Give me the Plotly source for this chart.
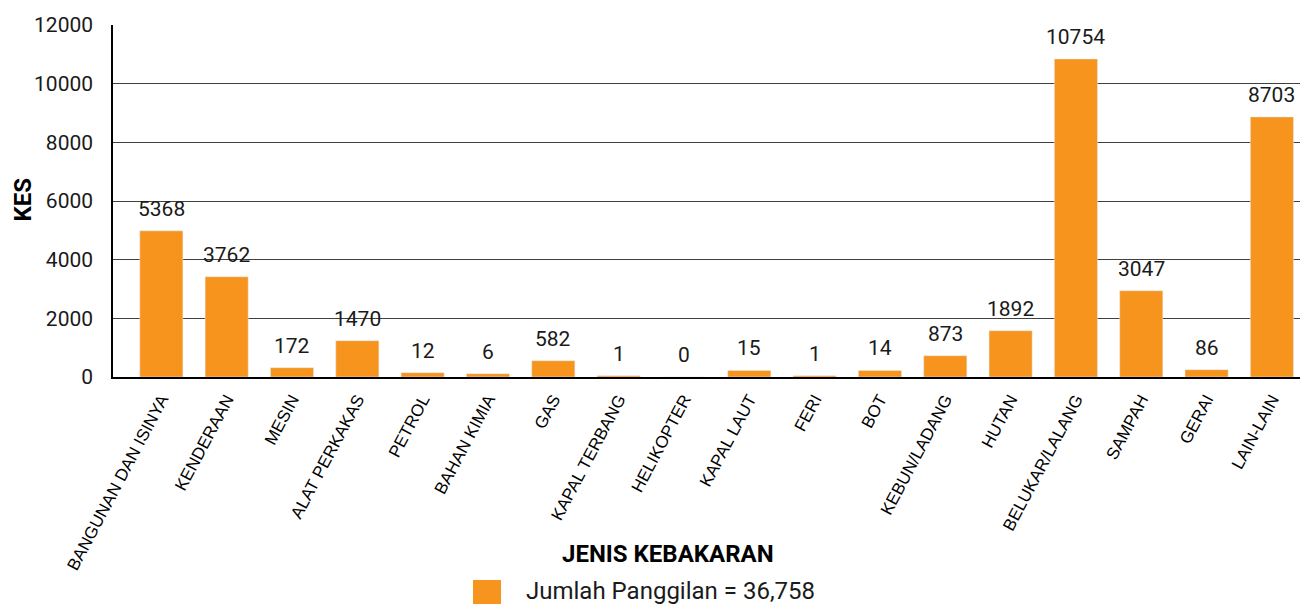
import plotly.graph_objects as go

categories = [
    "BANGUNAN DAN ISINYA", "KENDERAAN", "MESIN", "ALAT PERKAKAS", "PETROL",
    "BAHAN KIMIA", "GAS", "KAPAL TERBANG", "HELIKOPTER", "KAPAL LAUT", "FERI",
    "BOT", "KEBUN/LADANG", "HUTAN", "BELUKAR/LALANG", "SAMPAH", "GERAI", "LAIN-LAIN",
]
# bar heights as drawn in the picture
bar_heights = [4983, 3417, 317, 1237, 147, 113, 556, 45, 0, 225, 45, 225,
               726, 1577, 10842, 2940, 249, 8866]
# value labels printed above the bars
label_values = [5368, 3762, 172, 1470, 12, 6, 582, 1, 0, 15, 1, 14,
                873, 1892, 10754, 3047, 86, 8703]
y_ticks = [0, 2000, 4000, 6000, 8000, 10000, 12000]
legend_label = "Jumlah Panggilan = 36,758"
x_title = "JENIS KEBAKARAN"
y_title = "KES"

ORANGE = "#F7941D"
W, H = 1300, 604
L, R, T, B = 113, 0, 25, 227
PW, PH = W - L - R, H - T - B


def px(x):
    return (x - L) / PW


def py(y):
    return (H - B - y) / PH


fig = go.Figure()
fig.add_trace(go.Bar(
    x=categories, y=bar_heights, marker_color=ORANGE, width=0.66,
    name=legend_label, showlegend=False, hoverinfo="x+y",
))

annotations = []
for c, h, v in zip(categories, bar_heights, label_values):
    annotations.append(dict(
        x=c, y=h, xref="x", yref="y", text=str(v), showarrow=False,
        yanchor="bottom", xanchor="center", yshift=8,
        font=dict(family="Roboto", size=21, color="#1a1a1a"),
    ))

annotations.append(dict(
    x=px(22), y=py(199.5), xref="paper", yref="paper", text=f"<b>{y_title}</b>",
    textangle=-90, showarrow=False, xanchor="center", yanchor="middle",
    font=dict(family="Roboto", size=24, color="#000000"),
))
annotations.append(dict(
    x=px(668), y=py(554), xref="paper", yref="paper", text=f"<b>{x_title}</b>",
    showarrow=False, xanchor="center", yanchor="middle",
    font=dict(family="Roboto", size=24, color="#000000"),
))
annotations.append(dict(
    x=px(524), y=py(591), xref="paper", yref="paper", text=legend_label,
    showarrow=False, xanchor="left", yanchor="middle",
    font=dict(family="Roboto", size=24, color="#1a1a1a"),
))

shapes = [dict(
    type="rect", xref="paper", yref="paper",
    x0=px(473), x1=px(501), y0=py(580), y1=py(608),
    fillcolor=ORANGE, line=dict(width=0),
)]

fig.update_layout(
    width=W, height=H,
    margin=dict(l=L, r=R, t=T, b=B, pad=0),
    paper_bgcolor="white", plot_bgcolor="white",
    annotations=annotations, shapes=shapes,
    showlegend=False,
    bargap=0.34,
)
fig.update_xaxes(
    type="category", range=[-0.74, 17.43],
    tickangle=-62, tickfont=dict(family="Liberation Sans, Arial", size=17, color="#000000"),
    showline=True, linecolor="#000000", linewidth=1.5,
    showgrid=False, ticks="", ticklabelstandoff=4,
)
fig.update_yaxes(
    range=[0, 12000], tickvals=y_ticks, ticktext=[str(t) for t in y_ticks],
    tickfont=dict(family="Roboto", size=21, color="#1a1a1a"),
    showline=True, linecolor="#000000", linewidth=1.5,
    showgrid=True, gridcolor="#404040", gridwidth=1,
    zeroline=False, ticks="", ticklabelstandoff=14,
)

fig.write_html(
    "out.html",
    config={"displayModeBar": False},
    post_script="document.body.style.margin='0';document.body.style.overflow='hidden';",
)
